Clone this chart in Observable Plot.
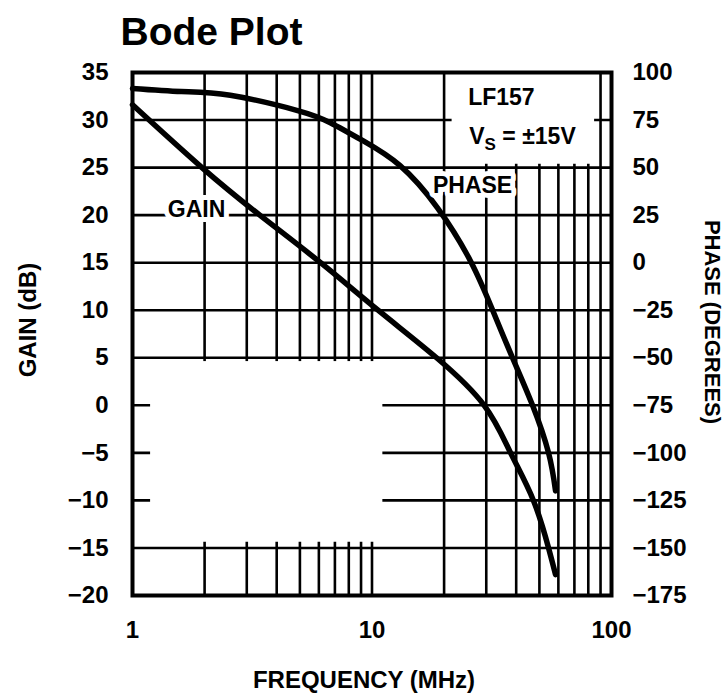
<!DOCTYPE html>
<html><head><meta charset="utf-8">
<script src="https://cdn.jsdelivr.net/npm/d3@7"></script>
<script src="https://cdn.jsdelivr.net/npm/@observablehq/plot@0.6"></script>
<style>
body{margin:0;background:#fff;}
#chart{position:relative;width:728px;height:698px;}
</style></head><body><div id="chart"></div>
<script>
// ---- data ----
const gainFreq  = [1, 1.95, 3.4, 6.1, 10.6, 18.6, 29.4, 37.9, 47.2, 54.6, 58.4];
const gainDb    = [31.6, 25, 20, 15, 10, 5, 0, -5, -10, -15, -17.8];
const phaseFreq = [1, 1.6, 2.56, 4.89, 6.7, 9.2, 13.1, 18.8, 25.8, 31.9, 38.6, 46.8, 54.6, 58.4];
const phaseDeg  = [91.6, 90, 88, 80, 73.6, 64, 51, 28.7, 0.8, -25, -50, -75, -100, -120];

const freqTicks  = [1, 10, 100];
const gridFreqs  = [2,3,4,5,6,7,8,9,10,20,30,40,50,60,70,80,90];
const gainTicks  = [35,30,25,20,15,10,5,0,-5,-10,-15,-20];
const phaseTicks = [100,75,50,25,0,-25,-50,-75,-100,-125,-150,-175];

// regions of the grid left blank in the original figure
const blankFreqLo  = [1.19, 21.6];
const blankFreqHi  = [11.1, 85];
const blankGainLo  = [-14.4, 25.35];
const blankGainHi  = [4.6, 35];

const labels = [
  {text: "GAIN",  f: 1.85, g: 20.6},
  {text: "PHASE", f: 26.3, g: 23.1},
  {text: "LF157", f: 34.7, g: 32.4}
];
const vsLabel = [{text: "VS = ±15V", f: 42.5, g: 28.3}];

// ---- build tables ----
const gainData  = gainFreq.map((f,i) => ({f, g: gainDb[i]}));
const toG = p => 35 + (p - 100) / 5;   // phase -> gain-axis equivalent
const phaseData = phaseFreq.map((f,i) => ({f, g: toG(phaseDeg[i])}));
const blanks = blankFreqLo.map((f1,i) => ({f1, f2: blankFreqHi[i], g1: blankGainLo[i], g2: blankGainHi[i]}));

const FONT = '"Liberation Sans", Arial, Helvetica, sans-serif';
const fmt = d3.format("d");
const FS = 24;

const plot = Plot.plot({
  width: 728, height: 698,
  marginLeft: 132, marginRight: 117, marginTop: 72, marginBottom: 103,
  style: {fontFamily: FONT, fontWeight: "bold", background: "white", color: "black"},
  x: {type: "log", domain: [1, 100]},
  y: {domain: [-20, 35]},
  marks: [
    Plot.ruleX(gridFreqs, {stroke: "black", strokeWidth: 2.6}),
    Plot.ruleY(gainTicks, {stroke: "black", strokeWidth: 2.6}),
    Plot.rect(blanks, {x1: "f1", x2: "f2", y1: "g1", y2: "g2", fill: "white"}),
    Plot.frame({stroke: "black", strokeWidth: 4}),
    Plot.axisX({ticks: freqTicks, tickFormat: d => String(d), tickSize: 0, tickPadding: 25, fontSize: FS, label: null}),
    Plot.axisY({ticks: gainTicks, tickFormat: fmt, tickSize: 0, tickPadding: 24, fontSize: FS, label: null}),
    Plot.axisY({anchor: "right", ticks: phaseTicks.map(toG), tickFormat: g => fmt(Math.round((g - 35) * 5 + 100)),
                tickSize: 0, tickPadding: 21, fontSize: FS, label: null}),
    Plot.line(gainData,  {x: "f", y: "g", curve: "natural", stroke: "black", strokeWidth: 5.5}),
    Plot.line(phaseData, {x: "f", y: "g", curve: "natural", stroke: "black", strokeWidth: 5.5}),
    Plot.text(labels, {x: "f", y: "g", text: "text", fontSize: 23, fontWeight: "bold", fill: "black",
                       stroke: "white", strokeWidth: 10, paintOrder: "stroke"}),
    Plot.text(vsLabel, {x: "f", y: "g", text: "text", fontSize: 23, fontWeight: "bold", fill: "black", className: "vslabel"}),
    Plot.text(["GAIN (dB)"], {frameAnchor: "left", textAnchor: "middle", lineAnchor: "middle",
                              dx: -104, dy: -14, rotate: -90, fontSize: FS, fontWeight: "bold"}),
    Plot.text(["PHASE (DEGREES)"], {frameAnchor: "right", textAnchor: "middle", lineAnchor: "middle",
                                    dx: 101, dy: -12, rotate: 90, fontSize: 22, fontWeight: "bold"}),
    Plot.text(["FREQUENCY (MHz)"], {frameAnchor: "bottom", textAnchor: "middle", lineAnchor: "middle",
                                    dx: -8, dy: 85, fontSize: FS, fontWeight: "bold"}),
    Plot.text(["Bode Plot"], {frameAnchor: "top-left", textAnchor: "start", lineAnchor: "middle",
                              dx: -12, dy: -40, fontSize: 39, fontWeight: "bold"})
  ]
});

// subscript S in "VS"
d3.select(plot).selectAll("g.vslabel text").each(function() {
  const t = d3.select(this);
  t.text(null);
  t.append("tspan").text("V");
  t.append("tspan").attr("dy", 6).attr("font-size", 17).text("S");
  t.append("tspan").attr("dy", -6).text(" = ±15V");
});

document.getElementById("chart").append(plot);
</script></body></html>
